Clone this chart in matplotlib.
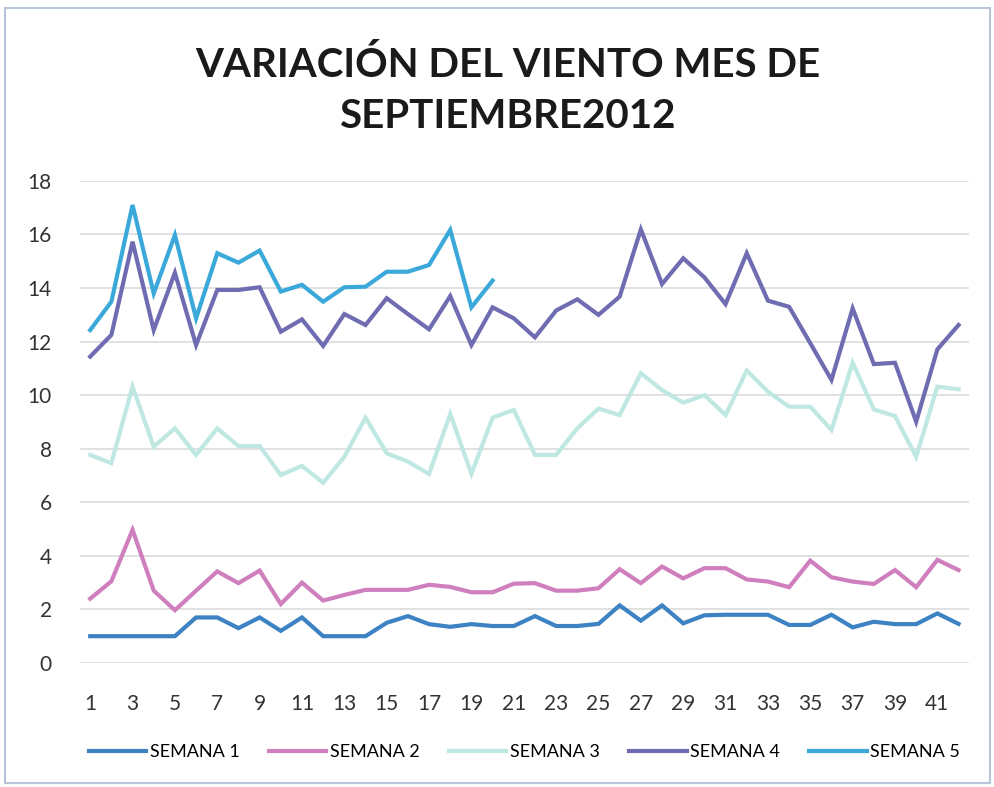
import matplotlib.pyplot as plt
import numpy as np

plt.rcParams['font.family'] = ['Lato', 'DejaVu Sans']

dias = list(range(1, 43))

semana1 = [1.0, 1.0, 1.0, 1.0, 1.0, 1.7, 1.7, 1.3, 1.7, 1.2, 1.7, 1.0, 1.0, 1.0,
           1.5, 1.75, 1.45, 1.35, 1.45, 1.38, 1.38, 1.75, 1.38, 1.38, 1.46, 2.15,
           1.58, 2.15, 1.48, 1.78, 1.8, 1.8, 1.8, 1.42, 1.42, 1.8, 1.33, 1.54,
           1.45, 1.45, 1.85, 1.46]
semana2 = [2.4, 3.05, 4.97, 2.7, 1.97, 2.7, 3.42, 2.98, 3.45, 2.2, 3.0, 2.33,
           2.54, 2.73, 2.73, 2.73, 2.92, 2.84, 2.64, 2.64, 2.96, 2.98, 2.7, 2.7,
           2.79, 3.5, 2.98, 3.6, 3.16, 3.54, 3.54, 3.12, 3.04, 2.83, 3.82, 3.2,
           3.04, 2.95, 3.47, 2.83, 3.85, 3.47]
semana3 = [7.77, 7.46, 10.32, 8.08, 8.76, 7.77, 8.76, 8.1, 8.1, 7.02, 7.36, 6.73,
           7.7, 9.16, 7.83, 7.52, 7.06, 9.3, 7.06, 9.16, 9.45, 7.77, 7.77, 8.76,
           9.5, 9.26, 10.82, 10.19, 9.72, 10.0, 9.26, 10.92, 10.13, 9.57, 9.57,
           8.7, 11.21, 9.47, 9.22, 7.7, 10.32, 10.22]
semana4 = [11.44, 12.25, 15.73, 12.43, 14.57, 11.87, 13.93, 13.93, 14.03, 12.37,
           12.83, 11.84, 13.03, 12.62, 13.62, 13.03, 12.46, 13.7, 11.87, 13.28,
           12.87, 12.16, 13.16, 13.58, 13.0, 13.68, 16.19, 14.15, 15.11, 14.4,
           13.4, 15.3, 13.53, 13.3, 11.94, 10.57, 13.24, 11.16, 11.21, 9.01,
           11.71, 12.62]
semana5 = [12.43, 13.49, 17.1, 13.8, 15.98, 12.87, 15.3, 14.95, 15.4, 13.87,
           14.12, 13.49, 14.03, 14.05, 14.61, 14.61, 14.86, 16.17, 13.28, 14.28]

series = [("SEMANA 1", semana1, "#3d82c2"),
          ("SEMANA 2", semana2, "#cf7fbe"),
          ("SEMANA 3", semana3, "#bfe8e2"),
          ("SEMANA 4", semana4, "#6f6cb2"),
          ("SEMANA 5", semana5, "#3aa9da")]

fig = plt.figure(figsize=(9.95, 7.87), dpi=100)
ax = fig.add_axes([0.08, 0.1576, 0.894, 0.6125])

for name, vals, c in series:
    ax.plot(dias[:len(vals)], vals, color=c, lw=3, label=name,
            solid_joinstyle='miter')

ax.set_xlim(0.5, 42.5)
ax.set_ylim(0, 18)
ax.set_yticks(range(0, 19, 2))
ax.set_xticks(range(1, 42, 2))
ax.grid(axis='y', color='#dcdcdc', lw=1.2)
ax.set_axisbelow(True)
for s in ax.spines.values():
    s.set_visible(False)
ax.tick_params(length=0, labelsize=15, colors='#333333')
ax.tick_params(axis='x', pad=22)
ax.tick_params(axis='y', pad=20)

fig.text(0.51, 0.885, "VARIACIÓN DEL VIENTO MES DE\nSEPTIEMBRE2012",
         ha='center', va='center', fontsize=29, fontweight='bold',
         color='#1a1a1a', linespacing=1.45)

ax.legend(loc='center', bbox_to_anchor=(0.5, -0.185), ncol=5, frameon=False,
          fontsize=13, handlelength=3.2, handletextpad=0.2, columnspacing=1.6)

fig.patches.append(plt.Rectangle((0.005, 0.005), 0.99, 0.985,
                                 transform=fig.transFigure, fill=False,
                                 edgecolor='#b8c4d8', lw=1.5))

fig.savefig("out.png", dpi=100)
